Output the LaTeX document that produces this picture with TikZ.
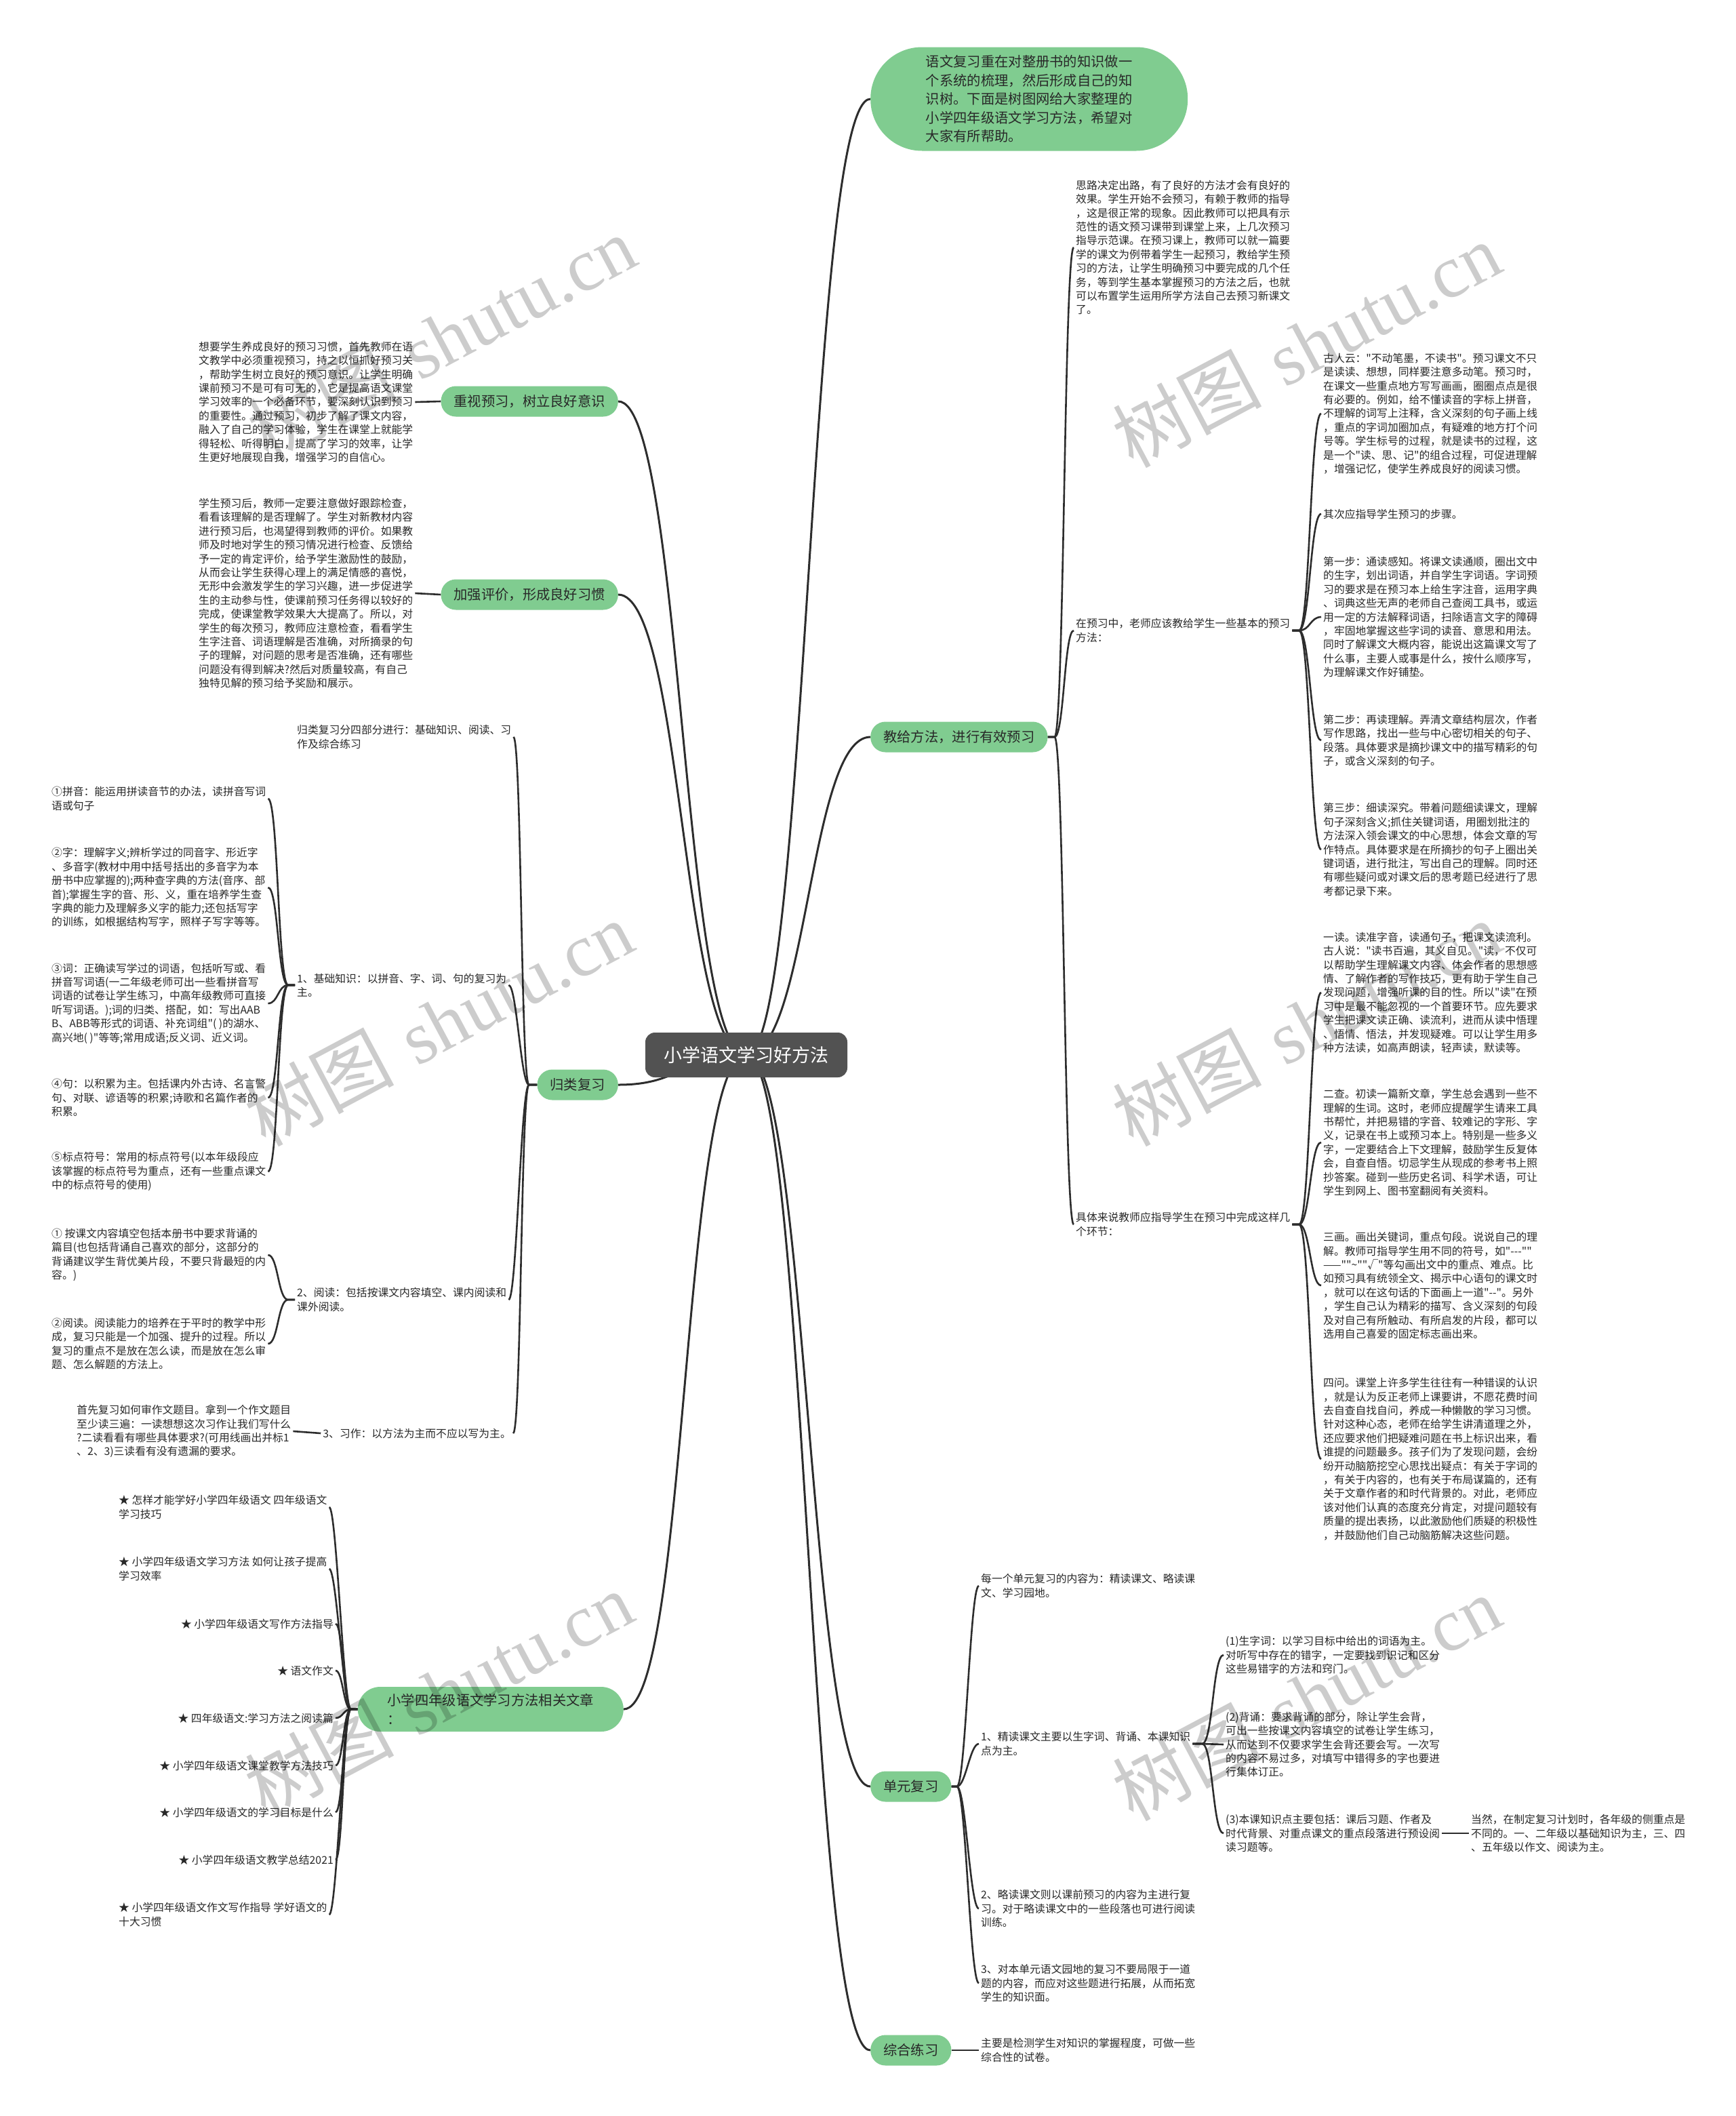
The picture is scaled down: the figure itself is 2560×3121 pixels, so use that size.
\documentclass[tikz,border=0pt]{standalone}
\usepackage{fontspec}
\newfontfamily\cjk{Noto Sans CJK SC}
\newfontfamily\wmlat{Liberation Serif}
\definecolor{pgreen}{RGB}{128,204,144}
\definecolor{tcol}{RGB}{40,40,40}
\definecolor{lcol}{RGB}{45,45,45}
\definecolor{rootc}{RGB}{82,82,82}
\pgfdeclarelayer{bg}
\pgfsetlayers{bg,main}
\tikzset{
  txt/.style={font=\cjk\fontsize{15.8}{20.4}\selectfont, text=tcol, align=left, inner sep=3pt},
  pill/.style={fill=pgreen, text=tcol, font=\cjk\fontsize{20.3}{27.4}\selectfont, inner xsep=19pt, inner ysep=0pt, minimum height=45pt, rounded corners=22pt, align=left},
  rootbox/.style={fill=rootc, text=white, font=\cjk\fontsize{27}{32}\selectfont, minimum width=298pt, minimum height=66pt, rounded corners=14pt, inner sep=0pt},
  ln/.style={draw=lcol, line width=2.6pt},
  mainln/.style={draw=lcol, line width=3pt},
  wm/.style={text=black, opacity=0.2, font=\fontsize{110}{110}\selectfont, inner sep=0pt}
}
\begin{document}
\begin{tikzpicture}[x=1pt,y=-1pt]
\begin{pgfonlayer}{bg}
\fill[white] (0,0) rectangle (2560,3121);
\end{pgfonlayer}
\useasboundingbox (0,0) rectangle (2560,3121);

% root
\node[rootbox] (root) at (1101,1556) {小学语文学习好方法};

% right branches
\node[pill, anchor=west, minimum width=468pt, minimum height=153pt, rounded corners=76pt, inner xsep=0pt] (A) at (1284,146) {语文复习重在对整册书的知识做一\\个系统的梳理，然后形成自己的知\\识树。下面是树图网给大家整理的\\小学四年级语文学习方法，希望对\\大家有所帮助。};
\node[pill, anchor=west] (B) at (1284,1087) {教给方法，进行有效预习};
\node[pill, anchor=west] (C) at (1284,2635) {单元复习};
\node[pill, anchor=west] (D) at (1284,3024) {综合练习};

% left branches
\node[pill, anchor=east] (E) at (912,592) {重视预习，树立良好意识};
\node[pill, anchor=east] (F) at (912,877) {加强评价，形成良好习惯};
\node[pill, anchor=east] (G) at (912,1600) {归类复习};
\node[pill, anchor=east, minimum width=392pt, minimum height=66pt, rounded corners=33pt, inner xsep=0pt] (H) at (920,2521) {小学四年级语文学习方法相关文章\\：};

% ---- B children
\node[txt, anchor=west] (B1) at (1584,365) {思路决定出路，有了良好的方法才会有良好的\\效果。学生开始不会预习，有赖于教师的指导\\，这是很正常的现象。因此教师可以把具有示\\范性的语文预习课带到课堂上来，上几次预习\\指导示范课。在预习课上，教师可以就一篇要\\学的课文为例带着学生一起预习，教给学生预\\习的方法，让学生明确预习中要完成的几个任\\务，等到学生基本掌握预习的方法之后，也就\\可以布置学生运用所学方法自己去预习新课文\\了。};
\node[txt, anchor=west] (B2) at (1584,930) {在预习中，老师应该教给学生一些基本的预习\\方法：};
\node[txt, anchor=west] (B3) at (1584,1806) {具体来说教师应指导学生在预习中完成这样几\\个环节：};

\node[txt, anchor=west] (B2a) at (1949,610) {古人云："不动笔墨，不读书"。预习课文不只\\是读读、想想，同样要注意多动笔。预习时，\\在课文一些重点地方写写画画，圈圈点点是很\\有必要的。例如，给不懂读音的字标上拼音，\\不理解的词写上注释，含义深刻的句子画上线\\，重点的字词加圈加点，有疑难的地方打个问\\号等。学生标号的过程，就是读书的过程，这\\是一个"读、思、记"的组合过程，可促进理解\\，增强记忆，使学生养成良好的阅读习惯。};
\node[txt, anchor=west] (B2b) at (1949,758) {其次应指导学生预习的步骤。};
\node[txt, anchor=west] (B2c) at (1949,910) {第一步：通读感知。将课文读通顺，圈出文中\\的生字，划出词语，并自学生字词语。字词预\\习的要求是在预习本上给生字注音，运用字典\\、词典这些无声的老师自己查阅工具书，或运\\用一定的方法解释词语，扫除语言文字的障碍\\，牢固地掌握这些字词的读音、意思和用法。\\同时了解课文大概内容，能说出这篇课文写了\\什么事，主要人或事是什么，按什么顺序写，\\为理解课文作好铺垫。};
\node[txt, anchor=west] (B2d) at (1949,1092) {第二步：再读理解。弄清文章结构层次，作者\\写作思路，找出一些与中心密切相关的句子、\\段落。具体要求是摘抄课文中的描写精彩的句\\子，或含义深刻的句子。};
\node[txt, anchor=west] (B2e) at (1949,1253) {第三步：细读深究。带着问题细读课文，理解\\句子深刻含义;抓住关键词语，用圈划批注的\\方法深入领会课文的中心思想，体会文章的写\\作特点。具体要求是在所摘抄的句子上圈出关\\键词语，进行批注，写出自己的理解。同时还\\有哪些疑问或对课文后的思考题已经进行了思\\考都记录下来。};

\node[txt, anchor=west] (B3a) at (1949,1464) {一读。读准字音，读通句子，把课文读流利。\\古人说："读书百遍，其义自见。"读，不仅可\\以帮助学生理解课文内容、体会作者的思想感\\情、了解作者的写作技巧，更有助于学生自己\\发现问题，增强听课的目的性。所以"读"在预\\习中是最不能忽视的一个首要环节。应先要求\\学生把课文读正确、读流利，进而从读中悟理\\、悟情、悟法，并发现疑难。可以让学生用多\\种方法读，如高声朗读，轻声读，默读等。};
\node[txt, anchor=west] (B3b) at (1949,1685) {二查。初读一篇新文章，学生总会遇到一些不\\理解的生词。这时，老师应提醒学生请来工具\\书帮忙，并把易错的字音、较难记的字形、字\\义，记录在书上或预习本上。特别是一些多义\\字，一定要结合上下文理解，鼓励学生反复体\\会，自查自悟。切忌学生从现成的参考书上照\\抄答案。碰到一些历史名词、科学术语，可让\\学生到网上、图书室翻阅有关资料。};
\node[txt, anchor=west] (B3c) at (1949,1896) {三画。画出关键词，重点句段。说说自己的理\\解。教师可指导学生用不同的符号，如"---""\\——""\textasciitilde""√"等勾画出文中的重点、难点。比\\如预习具有统领全文、揭示中心语句的课文时\\，就可以在这句话的下面画上一道"--"。另外\\，学生自己认为精彩的描写、含义深刻的句段\\及对自己有所触动、有所启发的片段，都可以\\选用自己喜爱的固定标志画出来。};
\node[txt, anchor=west] (B3d) at (1949,2152) {四问。课堂上许多学生往往有一种错误的认识\\，就是认为反正老师上课要讲，不愿花费时间\\去自查自找自问，养成一种懒散的学习习惯。\\针对这种心态，老师在给学生讲清道理之外，\\还应要求他们把疑难问题在书上标识出来，看\\谁提的问题最多。孩子们为了发现问题，会纷\\纷开动脑筋挖空心思找出疑点：有关于字词的\\，有关于内容的，也有关于布局谋篇的，还有\\关于文章作者的和时代背景的。对此，老师应\\该对他们认真的态度充分肯定，对提问题较有\\质量的提出表扬，以此激励他们质疑的积极性\\，并鼓励他们自己动脑筋解决这些问题。};

% ---- C children
\node[txt, anchor=west] (C1) at (1444,2339) {每一个单元复习的内容为：精读课文、略读课\\文、学习园地。};
\node[txt, anchor=west] (C2) at (1444,2572) {1、精读课文主要以生字词、背诵、本课知识\\点为主。};
\node[txt, anchor=west] (C3) at (1444,2815) {2、略读课文则以课前预习的内容为主进行复\\习。对于略读课文中的一些段落也可进行阅读\\训练。};
\node[txt, anchor=west] (C4) at (1444,2925) {3、对本单元语文园地的复习不要局限于一道\\题的内容，而应对这些题进行拓展，从而拓宽\\学生的知识面。};
\node[txt, anchor=west] (C2a) at (1805,2441) {(1)生字词：以学习目标中给出的词语为主。\\对听写中存在的错字，一定要找到识记和区分\\这些易错字的方法和窍门。};
\node[txt, anchor=west] (C2b) at (1805,2573) {(2)背诵：要求背诵的部分，除让学生会背，\\可出一些按课文内容填空的试卷让学生练习，\\从而达到不仅要求学生会背还要会写。一次写\\的内容不易过多，对填写中错得多的字也要进\\行集体订正。};
\node[txt, anchor=west] (C2c) at (1805,2704) {(3)本课知识点主要包括：课后习题、作者及\\时代背景、对重点课文的重点段落进行预设阅\\读习题等。};
\node[txt, anchor=west] (C2d) at (2167,2704) {当然，在制定复习计划时，各年级的侧重点是\\不同的。一、二年级以基础知识为主，三、四\\、五年级以作文、阅读为主。};
\node[txt, anchor=west] (D1) at (1444,3024) {主要是检测学生对知识的掌握程度，可做一些\\综合性的试卷。};

% ---- E, F children
\node[txt, anchor=west] (E1) at (290,593) {想要学生养成良好的预习习惯，首先教师在语\\文教学中必须重视预习，持之以恒抓好预习关\\，帮助学生树立良好的预习意识。让学生明确\\课前预习不是可有可无的，它是提高语文课堂\\学习效率的一个必备环节，要深刻认识到预习\\的重要性。通过预习，初步了解了课文内容，\\融入了自己的学习体验，学生在课堂上就能学\\得轻松、听得明白，提高了学习的效率，让学\\生更好地展现自我，增强学习的自信心。};
\node[txt, anchor=west] (F1) at (290,875) {学生预习后，教师一定要注意做好跟踪检查，\\看看该理解的是否理解了。学生对新教材内容\\进行预习后，也渴望得到教师的评价。如果教\\师及时地对学生的预习情况进行检查、反馈给\\予一定的肯定评价，给予学生激励性的鼓励，\\从而会让学生获得心理上的满足情感的喜悦，\\无形中会激发学生的学习兴趣，进一步促进学\\生的主动参与性，使课前预习任务得以较好的\\完成，使课堂教学效果大大提高了。所以，对\\学生的每次预习，教师应注意检查，看看学生\\生字注音、词语理解是否准确，对所摘录的句\\子的理解，对问题的思考是否准确，还有哪些\\问题没有得到解决?然后对质量较高，有自己\\独特见解的预习给予奖励和展示。};

% ---- G children
\node[txt, anchor=west] (G1) at (435,1087) {归类复习分四部分进行：基础知识、阅读、习\\作及综合练习};
\node[txt, anchor=west] (G2) at (435,1453) {1、基础知识：以拼音、字、词、句的复习为\\主。};
\node[txt, anchor=west] (G3) at (435,1917) {2、阅读：包括按课文内容填空、课内阅读和\\课外阅读。};
\node[txt, anchor=east] (G4) at (757,2114) {3、习作：以方法为主而不应以写为主。};
\node[txt, anchor=west] (G2a) at (73,1178) {①拼音：能运用拼读音节的办法，读拼音写词\\语或句子};
\node[txt, anchor=west] (G2b) at (73,1309) {②字：理解字义;辨析学过的同音字、形近字\\、多音字(教材中用中括号括出的多音字为本\\册书中应掌握的);两种查字典的方法(音序、部\\首);掌握生字的音、形、义，重在培养学生查\\字典的能力及理解多义字的能力;还包括写字\\的训练，如根据结构写字，照样子写字等等。};
\node[txt, anchor=west] (G2c) at (73,1480) {③词：正确读写学过的词语，包括听写或、看\\拼音写词语(一二年级老师可出一些看拼音写\\词语的试卷让学生练习，中高年级教师可直接\\听写词语。);词的归类、搭配，如：写出AAB\\B、ABB等形式的词语、补充词组"( )的湖水、\\高兴地( )"等等;常用成语;反义词、近义词。};
\node[txt, anchor=west] (G2d) at (73,1619) {④句：以积累为主。包括课内外古诗、名言警\\句、对联、谚语等的积累;诗歌和名篇作者的\\积累。};
\node[txt, anchor=west] (G2e) at (73,1728) {⑤标点符号：常用的标点符号(以本年级段应\\该掌握的标点符号为重点，还有一些重点课文\\中的标点符号的使用)};
\node[txt, anchor=west] (G3a) at (73,1851) {① 按课文内容填空包括本册书中要求背诵的\\篇目(也包括背诵自己喜欢的部分，这部分的\\背诵建议学生背优美片段，不要只背最短的内\\容。)};
\node[txt, anchor=west] (G3b) at (73,1982) {②阅读。阅读能力的培养在于平时的教学中形\\成，复习只能是一个加强、提升的过程。所以\\复习的重点不是放在怎么读，而是放在怎么审\\题、怎么解题的方法上。};
\node[txt, anchor=west] (G4a) at (110,2111) {首先复习如何审作文题目。拿到一个作文题目\\至少读三遍：一读想想这次习作让我们写什么\\?二读看看有哪些具体要求?(可用线画出并标1\\、2、3)三读看有没有遗漏的要求。};

% ---- H children
\node[txt, anchor=west] (H1) at (172,2223) {★ 怎样才能学好小学四年级语文 四年级语文\\学习技巧};
\node[txt, anchor=west] (H2) at (172,2314) {★ 小学四年级语文学习方法 如何让孩子提高\\学习效率};
\node[txt, anchor=east] (H3) at (495,2395) {★ 小学四年级语文写作方法指导};
\node[txt, anchor=east] (H4) at (495,2464) {★ 语文作文};
\node[txt, anchor=east] (H5) at (495,2534) {★ 四年级语文:学习方法之阅读篇};
\node[txt, anchor=east] (H6) at (495,2604) {★ 小学四年级语文课堂教学方法技巧};
\node[txt, anchor=east] (H7) at (495,2673) {★ 小学四年级语文的学习目标是什么};
\node[txt, anchor=east] (H8) at (495,2743) {★ 小学四年级语文教学总结2021};
\node[txt, anchor=west] (H9) at (172,2824) {★ 小学四年级语文作文写作指导 学好语文的\\十大习惯};

% ---- connectors
\begin{pgfonlayer}{bg}
\foreach \c in {A,B,C,D}
  \draw[mainln] (root.center) .. controls +(91,0) and +(-91,0) .. (\c.west);
\foreach \c in {E,F,G,H}
  \draw[mainln] (root.center) .. controls +(-95,0) and +(95,0) .. (\c.east);
\foreach \c in {B1,B2,B3}
  \draw[ln] (B.east) -- ++(10,0) .. controls +(14,0) and +(-14,0) .. (\c.west);
\foreach \c in {B2a,B2b,B2c,B2d,B2e}
  \draw[ln] (B2.east) -- ++(10,0) .. controls +(16,0) and +(-16,0) .. (\c.west);
\foreach \c in {B3a,B3b,B3c,B3d}
  \draw[ln] (B3.east) -- ++(10,0) .. controls +(16,0) and +(-16,0) .. (\c.west);
\foreach \c in {C1,C2,C3,C4}
  \draw[ln] (C.east) -- ++(8,0) .. controls +(13,0) and +(-13,0) .. (\c.west);
\foreach \c in {C2a,C2b,C2c}
  \draw[ln] (C2.east) -- ++(14,0) .. controls +(16,0) and +(-16,0) .. (\c.west);
\draw[ln] (C2c.east) -- (C2d.west);
\draw[ln] (D.east) -- (D1.west);
\draw[ln] (E.west) -- (E1.east);
\draw[ln] (F.west) -- (F1.east);
\foreach \c in {G1,G2,G3,G4}
  \draw[ln] (G.west) -- ++(-12,0) .. controls +(-12,0) and +(12,0) .. (\c.east);
\foreach \c in {G2a,G2b,G2c,G2d,G2e}
  \draw[ln] (G2.west) -- ++(-10,0) .. controls +(-15,0) and +(15,0) .. (\c.east);
\foreach \c in {G3a,G3b}
  \draw[ln] (G3.west) -- ++(-10,0) .. controls +(-15,0) and +(15,0) .. (\c.east);
\draw[ln] (G4.west) -- (G4a.east);
\foreach \c in {H1,H2,H3,H4,H5,H6,H7,H8,H9}
  \draw[ln] (H.west) -- ++(-10,0) .. controls +(-11,0) and +(11,0) .. (\c.east);
\end{pgfonlayer}

% ---- watermarks
\foreach \p [count=\i] in {(651,498),(1927,508),(647,1509),(1927,1509),(647,2498),(1927,2504)}
  \node[wm, rotate=28] (wm\i) at \p {{\cjk 树图} {\wmlat shutu.cn}};
\end{tikzpicture}
\end{document}
